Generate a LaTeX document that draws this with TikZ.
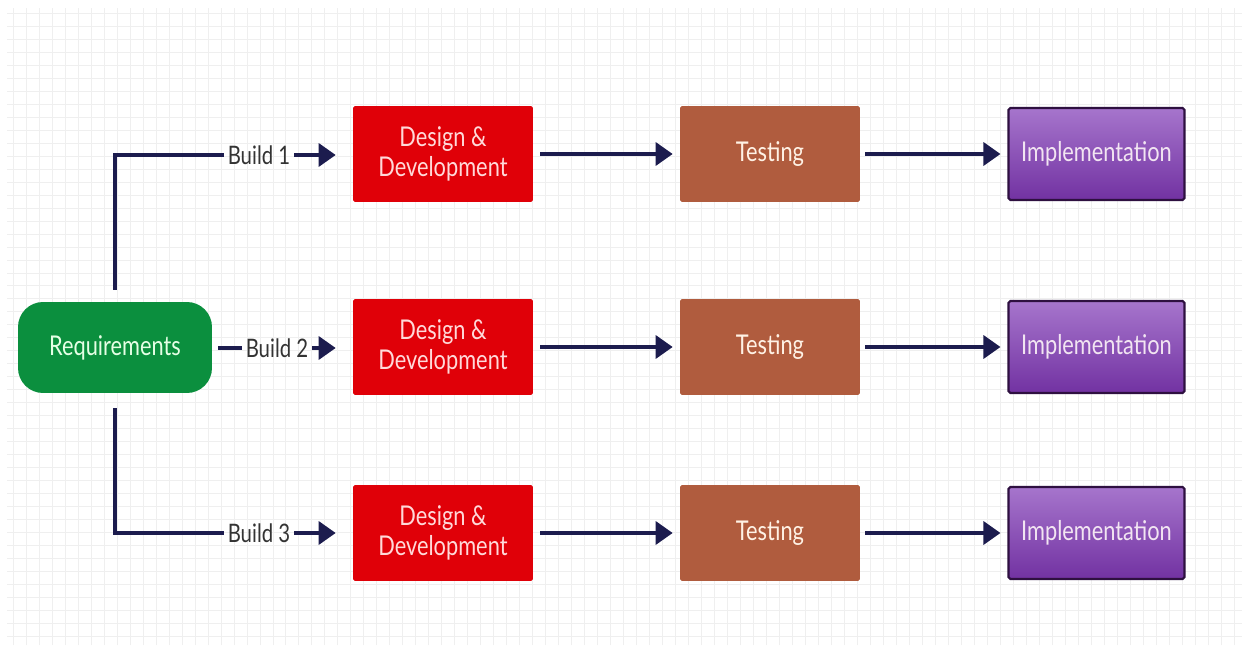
\documentclass[tikz,border=0pt]{standalone}
\usepackage{fontspec}
\setmainfont[FakeStretch=0.8]{Lato}
\usetikzlibrary{arrows.meta}
\definecolor{reqgreen}{HTML}{0B8F3E}
\definecolor{ddred}{HTML}{E00008}
\definecolor{testbrown}{HTML}{B05C3E}
\definecolor{impltop}{HTML}{A675CC}
\definecolor{implbot}{HTML}{7232A2}
\definecolor{implborder}{HTML}{2E1040}
\definecolor{navy}{HTML}{1C1C4E}
\definecolor{gridc}{HTML}{EFEFEF}
\tikzset{
  box/.style={minimum width=3.6cm, minimum height=1.92cm, inner sep=0pt, align=center, font=\fontsize{15.5}{17}\selectfont, rounded corners=1pt},
  reqbox/.style={box, fill=reqgreen, text=green!10!white, minimum width=3.88cm, minimum height=1.82cm, rounded corners=0.5cm},
  ddbox/.style={box, fill=ddred, text=red!15!white},
  testbox/.style={box, fill=testbrown, text=orange!10!white},
  implbox/.style={box, top color=impltop, bottom color=implbot, draw=implborder, line width=1.2pt, text=violet!10!white, minimum width=3.52cm, minimum height=1.84cm},
  buildlbl/.style={text=black!80, font=\fontsize{14.5}{16}\selectfont, inner sep=2pt},
  conn/.style={draw=navy, line width=2pt},
  arr/.style={conn, -{Triangle[length=0.34cm, width=0.46cm]}}
}
\begin{document}
\begin{tikzpicture}[x=0.02cm, y=-0.02cm]
\useasboundingbox (0,0) rectangle (1249,652);
\fill[white] (0,0) rectangle (1249,652);
\draw[gridc, line width=0.5pt, step=0.26cm] (7,8) grid (1242,645);
% nodes
\node[reqbox] (req) at (115,347.5) {Requirements};
\foreach \r/\y in {1/154, 2/347, 3/533}{
  \node[ddbox] (dd\r) at (443,\y) {Design \&\\Development};
  \node[testbox] (t\r) at (770,\y) {Testing};
  \node[implbox] (im\r) at (1096.5,\y) {Implementation};
}
\node[buildlbl] (b1) at (259,155) {Build 1};
\node[buildlbl] (b2) at (277,348) {Build 2};
\node[buildlbl] (b3) at (259,533) {Build 3};
% build connectors
\draw[conn, shorten <=0.24cm] (req.north) |- (b1.west);
\draw[conn, shorten <=0.12cm] (req.east |- b2.west) -- (b2.west);
\draw[conn, shorten <=0.3cm] (req.south) |- (b3.west);
\foreach \r in {1,2,3}{
  \draw[arr, shorten >=0.34cm] (b\r.east) -- (dd\r.west |- b\r.east);
  \draw[arr, shorten <=0.14cm, shorten >=0.14cm] (dd\r.east) -- (t\r.west);
  \draw[arr, shorten <=0.1cm, shorten >=0.14cm] (t\r.east) -- (im\r.west);
}
\end{tikzpicture}
\end{document}
